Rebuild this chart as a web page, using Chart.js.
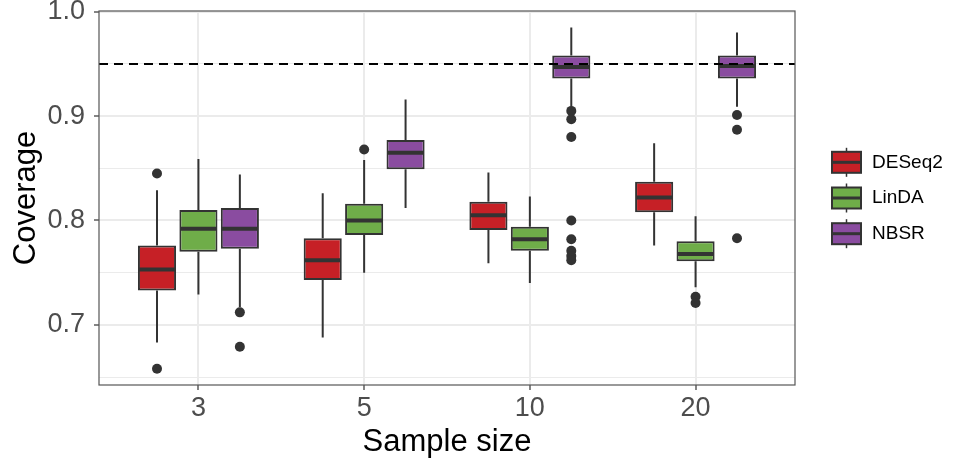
<!DOCTYPE html>
<html><head><meta charset="utf-8">
<script src="https://cdn.jsdelivr.net/npm/chart.js@4.4.1/dist/chart.umd.min.js"></script>
<style>html,body{margin:0;padding:0;background:#fff;}#wrap{width:968px;height:472px;position:relative;}</style>
</head><body><div id="wrap"><canvas id="c"></canvas></div>
<script>
const categories = ['3', '5', '10', '20'];
const seriesNames = ['DESeq2', 'LinDA', 'NBSR'];
const seriesColors = ['#C62026', '#6FAD49', '#8A4CA0'];
// [lower whisker, Q1, median, Q3, upper whisker] per sample size
const deseq2Stats = [[0.683, 0.733, 0.753, 0.776, 0.829], [0.688, 0.743, 0.762, 0.783, 0.826], [0.759, 0.791, 0.805, 0.818, 0.846], [0.776, 0.808, 0.822, 0.837, 0.874]];
const lindaStats  = [[0.729, 0.770, 0.792, 0.810, 0.859], [0.750, 0.786, 0.800, 0.816, 0.858], [0.740, 0.771, 0.782, 0.794, 0.823], [0.736, 0.761, 0.768, 0.780, 0.804]];
const nbsrStats   = [[0.717, 0.773, 0.792, 0.812, 0.844], [0.812, 0.849, 0.865, 0.877, 0.916], [0.909, 0.936, 0.947, 0.958, 0.985], [0.909, 0.936, 0.948, 0.958, 0.980]];
const deseq2Outliers = [[0.845, 0.658], [], [], []];
const lindaOutliers  = [[], [0.868], [], [0.727, 0.721]];
const nbsrOutliers   = [[0.712, 0.679], [], [0.905, 0.897, 0.880, 0.800, 0.782, 0.771, 0.766, 0.762], [0.901, 0.887, 0.783]];
const yTicks = [0.65, 0.7, 0.75, 0.8, 0.85, 0.9, 0.95, 1.0];
const yTickLabels = ['', '0.7', '', '0.8', '', '0.9', '', '1.0'];
const referenceLine = 0.95;
const xTitle = 'Sample size';
const yTitle = 'Coverage';

const statsBySeries = [deseq2Stats, lindaStats, nbsrStats];
const outliersBySeries = [deseq2Outliers, lindaOutliers, nbsrOutliers];
const FONT = '"Liberation Sans", Arial, Helvetica, sans-serif';
const INK = '#333333';

const boxPlugin = {
  id: 'boxExtras',
  beforeDatasetsDraw(chart) {
    const {ctx, scales: {y}} = chart;
    ctx.save();
    ctx.strokeStyle = INK; ctx.lineWidth = 2;
    statsBySeries.forEach((st, k) => {
      const meta = chart.getDatasetMeta(k);
      st.forEach((s, i) => {
        const x = meta.data[i].x;
        ctx.beginPath();
        ctx.moveTo(x, y.getPixelForValue(s[0])); ctx.lineTo(x, y.getPixelForValue(s[1]));
        ctx.moveTo(x, y.getPixelForValue(s[3])); ctx.lineTo(x, y.getPixelForValue(s[4]));
        ctx.stroke();
      });
    });
    ctx.restore();
  },
  afterDatasetsDraw(chart) {
    const {ctx, chartArea: a, scales: {y}} = chart;
    ctx.save();
    statsBySeries.forEach((st, k) => {
      const meta = chart.getDatasetMeta(k);
      st.forEach((s, i) => {
        const bar = meta.data[i];
        const py = y.getPixelForValue(s[2]);
        ctx.strokeStyle = INK; ctx.lineWidth = 4;
        ctx.beginPath(); ctx.moveTo(bar.x - bar.width / 2 + 1, py); ctx.lineTo(bar.x + bar.width / 2 - 1, py); ctx.stroke();
        ctx.fillStyle = INK;
        outliersBySeries[k][i].forEach(v => {
          ctx.beginPath(); ctx.arc(bar.x, y.getPixelForValue(v), 5, 0, Math.PI * 2); ctx.fill();
        });
      });
    });
    const ry = y.getPixelForValue(referenceLine);
    ctx.strokeStyle = '#000'; ctx.lineWidth = 2; ctx.setLineDash([9, 6]);
    ctx.beginPath(); ctx.moveTo(a.left, ry); ctx.lineTo(a.right, ry); ctx.stroke();
    ctx.setLineDash([]);
    ctx.strokeStyle = '#555'; ctx.lineWidth = 1.2;
    ctx.strokeRect(a.left, a.top, a.right - a.left, a.bottom - a.top);
    const cy = (a.top + a.bottom) / 2;
    const kx = a.right + 37, kw = 29, kh = 21, gap = 35.7;
    seriesNames.forEach((name, k) => {
      const yc = cy + (k - 1) * gap;
      const mx = kx + kw / 2;
      ctx.strokeStyle = INK; ctx.lineWidth = 1.5;
      ctx.beginPath(); ctx.moveTo(mx, yc - 14.5); ctx.lineTo(mx, yc + 14.5); ctx.stroke();
      ctx.fillStyle = seriesColors[k];
      ctx.fillRect(kx, yc - kh / 2, kw, kh);
      ctx.lineWidth = 2;
      ctx.strokeRect(kx, yc - kh / 2, kw, kh);
      ctx.lineWidth = 3;
      ctx.beginPath(); ctx.moveTo(kx, yc); ctx.lineTo(kx + kw, yc); ctx.stroke();
      ctx.fillStyle = '#000'; ctx.font = '19px ' + FONT;
      ctx.textAlign = 'left'; ctx.textBaseline = 'middle';
      ctx.fillText(name, kx + 40, yc);
    });
    ctx.restore();
  }
};

new Chart(document.getElementById('c'), {
  type: 'bar',
  data: {
    datasets: statsBySeries.map((st, k) => ({
      label: seriesNames[k],
      data: st.map((s, i) => ({x: i, y: [s[1], s[3]]})),
      backgroundColor: seriesColors[k],
      borderColor: INK,
      borderWidth: 2,
      borderSkipped: false,
      categoryPercentage: 0.75,
      barPercentage: 0.92
    }))
  },
  options: {
    responsive: true,
    maintainAspectRatio: false,
    animation: false,
    layout: {padding: {top: 11, right: 173, bottom: 0, left: 0}},
    plugins: {legend: {display: false}, tooltip: {enabled: false}},
    scales: {
      x: {
        type: 'linear', min: -0.6, max: 3.6, offset: false,
        afterBuildTicks: s => { s.ticks = categories.map((c, i) => ({value: i})); },
        afterFit: s => { s.height = 87; s.paddingLeft = 0; s.paddingRight = 0; s.paddingTop = 0; s.paddingBottom = 0; },
        ticks: {
          autoSkip: false, maxRotation: 0, padding: 2, color: '#4D4D4D',
          font: {family: FONT, size: 27},
          callback: (v, i) => categories[i]
        },
        grid: {offset: false, color: '#EBEBEB', lineWidth: 2, tickColor: INK, tickLength: 5, tickWidth: 1.2},
        border: {display: false},
        title: {display: true, text: xTitle, color: '#000', font: {family: FONT, size: 31}, padding: {top: 0, bottom: 11}}
      },
      y: {
        min: 0.6424, max: 1.0007,
        afterBuildTicks: s => { s.ticks = yTicks.map(v => ({value: v})); },
        afterFit: s => { s.width = 99; s.paddingTop = 0; s.paddingBottom = 0; s.paddingLeft = 0; s.paddingRight = 0; },
        ticks: {
          autoSkip: false, padding: 9, color: '#4D4D4D',
          font: {family: FONT, size: 27},
          callback: (v, i) => yTickLabels[i]
        },
        grid: {
          color: '#EBEBEB',
          lineWidth: c => (yTickLabels[c.index] ? 2 : 1),
          tickColor: c => (yTickLabels[c.index] ? INK : 'rgba(0,0,0,0)'),
          tickLength: 5, tickWidth: 1.2
        },
        border: {display: false},
        title: {display: true, text: yTitle, color: '#000', font: {family: FONT, size: 31}, padding: {top: 8, bottom: 0}}
      }
    }
  },
  plugins: [boxPlugin]
});
</script></body></html>
